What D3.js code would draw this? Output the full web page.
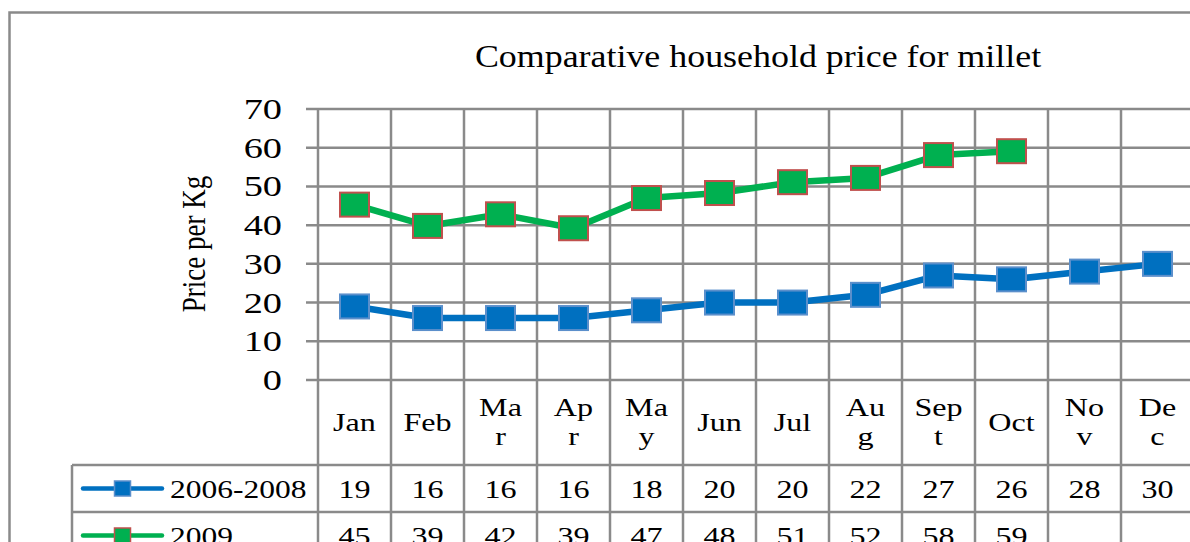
<!DOCTYPE html>
<html>
<head>
<meta charset="utf-8">
<script src="https://cdn.jsdelivr.net/npm/d3@7"></script>
<style>
  body { margin: 0; background: #fff; }
  svg { display: block; }
  svg text { font-family: "Times New Roman", "Liberation Serif", Tinos, Times, serif; }
</style>
</head>
<body>
<div id="chart"></div>
<script>
// --- Data ---
const months = ["Jan", "Feb", "Mar", "Apr", "May", "Jun", "Jul", "Aug", "Sept", "Oct", "Nov", "Dec"];
// header cells as they wrap in the data table
const monthHeader = [["Jan"], ["Feb"], ["Ma", "r"], ["Ap", "r"], ["Ma", "y"], ["Jun"], ["Jul"], ["Au", "g"], ["Sep", "t"], ["Oct"], ["No", "v"], ["De", "c"]];
const seriesNames = ["2006-2008", "2009"];
const price0608 = [19, 16, 16, 16, 18, 20, 20, 22, 27, 26, 28, 30];
const price2009 = [45.3, 39.8, 42.8, 39.2, 47, 48.3, 51.1, 52.2, 58.1, 59.1];
// values printed in the table
const table0608 = ["19", "16", "16", "16", "18", "20", "20", "22", "27", "26", "28", "30"];
const table2009 = ["45", "39", "42", "39", "47", "48", "51", "52", "58", "59", "", ""];
const yTicks = [0, 10, 20, 30, 40, 50, 60, 70];

const width = 1190, height = 542;
const plot = { left: 318, right: 1194, top: 109, bottom: 380 };
const rows = [380, 465, 512, 559];   // header, series 1, series 2 bottoms
const legendLeft = 72;
const grid = "#8a8a8a";
const sx = 1.26;                      // text in the picture is stretched sideways

const styles = [
  { line: "#0070C0", fill: "#0070C0", stroke: "#5B8FCB" },
  { line: "#00B050", fill: "#00B050", stroke: "#C0504D" }
];

const svg = d3.select("#chart").append("svg")
  .attr("width", width).attr("height", height);

// outer chart border
svg.append("rect")
  .attr("x", 9.5).attr("y", 12.5)
  .attr("width", width + 20).attr("height", height + 20)
  .attr("fill", "none").attr("stroke", grid).attr("stroke-width", 2.5);

// --- Scales ---
const x = d3.scaleBand().domain(months).range([plot.left, plot.right]).padding(0);
const y = d3.scaleLinear().domain([0, 70]).range([plot.bottom, plot.top]);
const cx = m => x(m) + x.bandwidth() / 2;

function stretchedText(g, px, py, str, size, anchor, s = sx, rot = 0) {
  return g.append("text")
    .attr("transform", `translate(${px},${py}) scale(${s},1)` + (rot ? ` rotate(${rot})` : ""))
    .attr("text-anchor", anchor)
    .attr("font-size", size)
    .attr("fill", "#000")
    .text(str);
}

// --- Grid ---
const gridG = svg.append("g").attr("stroke", grid).attr("stroke-width", 2.5).attr("fill", "none");
yTicks.forEach(t => {
  gridG.append("line").attr("x1", plot.left - 12).attr("x2", width).attr("y1", y(t)).attr("y2", y(t));
});
const edges = months.map(m => x(m)).concat([plot.right]);
edges.forEach(e => {
  gridG.append("line").attr("x1", e).attr("x2", e).attr("y1", plot.top).attr("y2", rows[3]);
});
// table rows
rows.slice(1).forEach(r => {
  gridG.append("line").attr("x1", legendLeft).attr("x2", width).attr("y1", r).attr("y2", r);
});
gridG.append("line").attr("x1", legendLeft).attr("x2", legendLeft).attr("y1", rows[1]).attr("y2", rows[3]);

// --- Y axis labels ---
const axisG = svg.append("g");
yTicks.forEach(t => stretchedText(axisG, 282, y(t) + 10, t, 29.5, "end", 1.3));
stretchedText(axisG, 205, 244, "Price per Kg", 27, "middle", sx, -90);

// --- Title ---
stretchedText(svg, 758, 67, "Comparative household price for millet", 31.5, "middle", 1.14);

// --- Lines and markers ---
const series = [price0608, price2009];
const line = d3.line().x((d, i) => cx(months[i])).y(d => y(d));
series.forEach((vals, si) => {
  const st = styles[si];
  svg.append("path").datum(vals)
    .attr("d", line)
    .attr("fill", "none")
    .attr("stroke", st.line)
    .attr("stroke-width", 6.5)
    .attr("stroke-linejoin", "round");
  svg.append("g").selectAll("rect").data(vals).join("rect")
    .attr("x", (d, i) => cx(months[i]) - 14.5)
    .attr("y", d => y(d) - 12)
    .attr("width", 29).attr("height", 24)
    .attr("fill", st.fill)
    .attr("stroke", st.stroke)
    .attr("stroke-width", 2);
});

// --- Data table ---
const tableG = svg.append("g");
monthHeader.forEach((lines, i) => {
  const mid = cx(months[i]);
  if (lines.length === 1) {
    stretchedText(tableG, mid, 431, lines[0], 25.5, "middle");
  } else {
    stretchedText(tableG, mid, 416, lines[0], 25.5, "middle");
    stretchedText(tableG, mid, 445, lines[1], 25.5, "middle");
  }
});

[table0608, table2009].forEach((vals, si) => {
  const rowMid = (rows[si + 1] + rows[si + 2]) / 2;
  vals.forEach((v, i) => {
    if (v !== "") stretchedText(tableG, cx(months[i]), rowMid + 9, v, 25.5, "middle");
  });
  // legend key
  const st = styles[si];
  tableG.append("line")
    .attr("x1", 83).attr("x2", 162).attr("y1", rowMid).attr("y2", rowMid)
    .attr("stroke", st.line).attr("stroke-width", 4.5).attr("stroke-linecap", "round");
  tableG.append("rect")
    .attr("x", 122.5 - 8).attr("y", rowMid - 7.5)
    .attr("width", 16).attr("height", 15)
    .attr("fill", st.fill).attr("stroke", st.stroke).attr("stroke-width", 1.5);
  stretchedText(tableG, 170, rowMid + 9, seriesNames[si], 25, "start");
});
</script>
</body>
</html>
